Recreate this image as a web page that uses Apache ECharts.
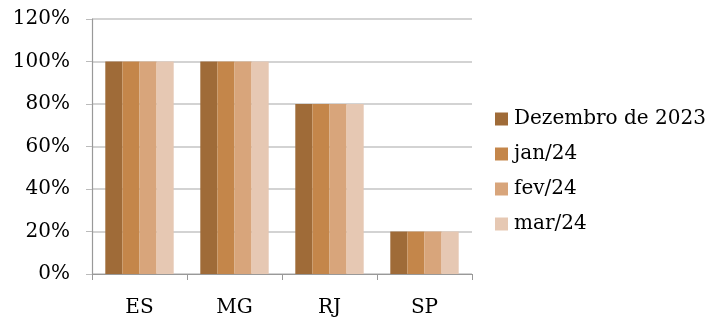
<!DOCTYPE html>
<html><head><meta charset="utf-8">
<script src="https://cdn.jsdelivr.net/npm/echarts@6/dist/echarts.min.js"></script>
<style>html,body{margin:0;padding:0;background:#fff}#c{width:716px;height:322px}</style>
</head><body><div id="c"></div>
<script>
const categories = ['ES', 'MG', 'RJ', 'SP'];
const seriesNames = ['Dezembro de 2023', 'jan/24', 'fev/24', 'mar/24'];
const dez23 = [100, 100, 80, 20];
const jan24 = [100, 100, 80, 20];
const fev24 = [100, 100, 80, 20];
const mar24 = [100, 100, 80, 20];
const colors = ['#9f6b38', '#c4864a', '#d8a57b', '#e6c8b3'];
const values = [dez23, jan24, fev24, mar24];
const font = 'DejaVu Serif';
const chart = echarts.init(document.getElementById('c'));
chart.setOption({
  animation: false,
  grid: {left: 92, right: 244, top: 19, bottom: 48},
  legend: {
    orient: 'vertical', left: 490, top: 104, itemGap: 15,
    itemWidth: 13, itemHeight: 13, icon: 'rect',
    textStyle: {fontFamily: font, fontSize: 20, color: '#000', padding: [0, 0, 0, 1]},
    data: seriesNames
  },
  xAxis: {
    type: 'category', data: categories,
    axisLine: {lineStyle: {color: '#999', width: 1.2}},
    axisTick: {show: true, length: 6, lineStyle: {color: '#999'}},
    axisLabel: {fontFamily: font, fontSize: 20, color: '#000', margin: 24}
  },
  yAxis: {
    type: 'value', min: 0, max: 120, interval: 20,
    axisLine: {show: true, lineStyle: {color: '#999', width: 1.2}},
    axisTick: {show: true, length: 6, lineStyle: {color: '#bbb'}},
    splitLine: {lineStyle: {color: '#c4c4c4', width: 1.5}},
    axisLabel: {fontFamily: font, fontSize: 20, color: '#000', margin: 22, formatter: '{value}%'}
  },
  series: seriesNames.map((n, i) => ({
    name: n, type: 'bar', data: values[i], barGap: '0%', barCategoryGap: '28%',
    itemStyle: {color: colors[i]}
  }))
});
</script></body></html>
